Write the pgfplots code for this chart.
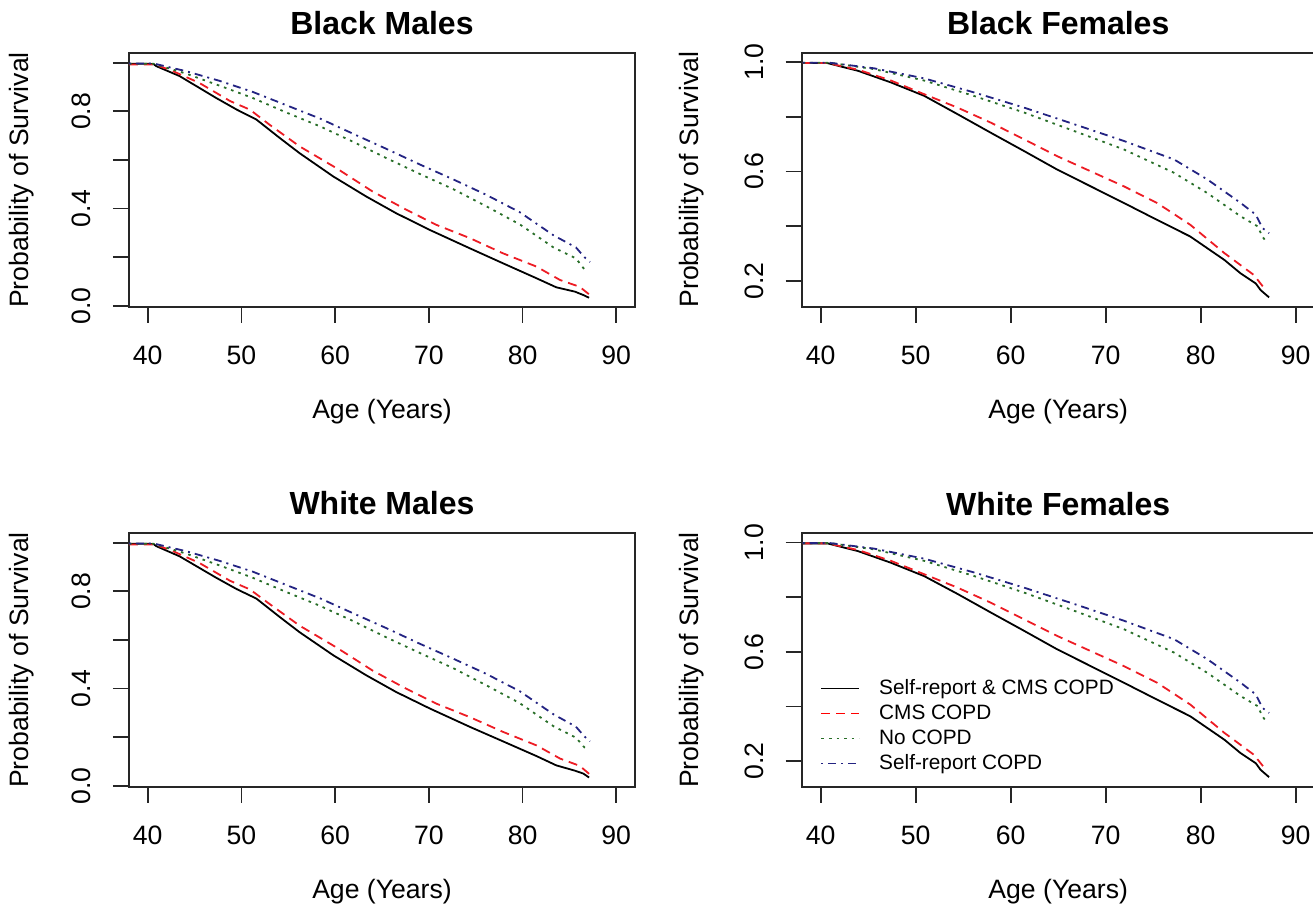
\documentclass[border=0pt]{standalone}
\usepackage{fontspec}
\setmainfont{Liberation Sans}
\usepackage{pgfplots}
\pgfplotsset{compat=1.18}

\definecolor{rred}{RGB}{237,28,36}
\definecolor{rgreen}{RGB}{40,110,40}
\definecolor{rblue}{RGB}{35,35,130}
\newcommand\lab{\fontsize{13.3}{16}\selectfont}

\pgfplotsset{
  survival/.style={
    scale only axis, width=253pt, height=127pt,
    xmin=38, xmax=92,
    xtick={40,50,60,70,80,90}, xticklabels={40,50,60,70,80,90},
    axis line style={line width=0.9pt, black!85},
    every tick/.style={line width=0.9pt, black!85},
    tick align=outside, major tick length=8pt,
    xtick pos=bottom, ytick pos=left,
    /pgf/number format/assume math mode=true,
    xticklabel style={anchor=north, inner sep=0pt, font=\lab},
    yticklabel style={rotate=90, anchor=south, inner sep=0pt, font=\lab},
    xticklabel shift=11.2pt, yticklabel shift=11pt,
    title style={at={(axis description cs:0.5,1)}, anchor=base, yshift=3pt,
      font=\bfseries\fontsize{16}{19}\selectfont},
    xlabel={Age (Years)}, ylabel={Probability of Survival},
    xlabel style={at={(axis description cs:0.5,0)}, anchor=base, yshift=-55.7pt, font=\lab},
    ylabel style={at={(axis description cs:-0.2130,0.5)}, anchor=center, font=\lab},
  },
  leftpanel/.style={survival, ymin=-0.005, ymax=1.04,
    ytick={0,0.2,0.4,0.6,0.8,1}, yticklabels={0.0,,0.4,,0.8,}},
  rightpanel/.style={survival, width=256.5pt, ymin=0.105, ymax=1.035,
    ytick={0.2,0.4,0.6,0.8,1}, yticklabels={0.2,,0.6,,1.0},
    ylabel style={at={(axis description cs:-0.2150,0.5)}}},
  both/.style={line width=0.9pt, color=black},
  cms/.style={line width=0.9pt, color=rred, dash pattern=on 4.5pt off 3pt},
  nocopd/.style={line width=0.9pt, color=rgreen, dash pattern=on 1.3pt off 2.5pt},
  self/.style={line width=0.9pt, color=rblue, dash pattern=on 1pt off 2.5pt on 4pt off 2.5pt},
}

\begin{document}
\begin{tikzpicture}
\path[use as bounding box, clip] (0,0) rectangle (656.5pt,457.5pt);

% Black Males
\begin{axis}[leftpanel, at={(64.5pt,304pt)}, anchor=south west, title={Black Males}]
\addplot[both] coordinates {(38.0,0.996)(40.6,0.995)(40.9,0.986)(43.4,0.945)(47.3,0.855)(49.5,0.807)(51.6,0.766)(54.1,0.690)(56.2,0.628)(59.8,0.532)(63.3,0.450)(66.5,0.381)(70.1,0.312)(74.4,0.236)(77.9,0.175)(81.5,0.113)(83.6,0.076)(85.6,0.058)(86.5,0.044)(87.1,0.033)};
\addplot[cms] coordinates {(38.0,0.993)(40.6,0.993)(42.3,0.972)(45.5,0.917)(48.8,0.842)(50.9,0.807)(53.0,0.745)(56.2,0.656)(60.1,0.567)(64.0,0.470)(67.6,0.395)(70.8,0.333)(74.4,0.278)(77.9,0.216)(81.5,0.161)(84.0,0.106)(86.1,0.078)(87.2,0.044)};
\addplot[nocopd] coordinates {(38.0,0.996)(40.6,0.996)(44.1,0.955)(47.7,0.905)(51.2,0.855)(54.8,0.795)(58.4,0.738)(61.9,0.675)(65.5,0.607)(69.0,0.543)(72.6,0.480)(76.1,0.410)(79.7,0.335)(83.3,0.240)(85.7,0.195)(86.6,0.150)};
\addplot[self] coordinates {(38.0,0.997)(40.6,0.997)(44.1,0.965)(47.7,0.925)(51.2,0.880)(54.8,0.825)(58.4,0.770)(61.9,0.708)(65.5,0.645)(69.0,0.582)(72.6,0.520)(76.1,0.457)(79.7,0.385)(83.3,0.290)(85.7,0.240)(86.6,0.200)(87.2,0.180)};
\end{axis}

% Black Females
\begin{axis}[rightpanel, at={(400.85pt,304.15pt)}, anchor=south west, title={Black Females}]
\addplot[both] coordinates {(38.1,0.997)(40.7,0.997)(43.9,0.969)(47.4,0.926)(50.9,0.877)(54.4,0.810)(57.9,0.742)(61.4,0.675)(64.9,0.607)(68.4,0.546)(71.9,0.485)(75.4,0.423)(78.9,0.362)(82.5,0.276)(84.2,0.227)(85.8,0.190)(86.3,0.166)(87.2,0.139)};
\addplot[cms] coordinates {(38.1,0.997)(40.7,0.997)(43.9,0.973)(47.4,0.933)(50.9,0.883)(54.4,0.834)(57.9,0.779)(61.4,0.718)(64.9,0.656)(68.4,0.601)(71.9,0.546)(75.4,0.485)(78.9,0.405)(82.5,0.301)(85.6,0.221)(86.7,0.172)};
\addplot[nocopd] coordinates {(38.1,0.998)(41.0,0.998)(45.6,0.975)(50.9,0.933)(56.1,0.877)(61.4,0.816)(66.7,0.748)(71.9,0.681)(77.2,0.595)(80.7,0.521)(84.2,0.436)(86.0,0.399)(86.5,0.362)(87.0,0.337)};
\addplot[self] coordinates {(38.1,0.998)(41.0,0.998)(45.6,0.978)(50.9,0.941)(56.1,0.890)(61.4,0.834)(66.7,0.773)(71.9,0.712)(77.2,0.644)(80.7,0.571)(84.2,0.485)(85.8,0.442)(86.5,0.393)(87.2,0.374)};
\end{axis}

% White Males
\begin{axis}[leftpanel, at={(64.5pt,64pt)}, anchor=south west, title={White Males}]
\addplot[both] coordinates {(38.0,0.996)(40.6,0.995)(40.9,0.986)(43.4,0.944)(47.3,0.856)(49.5,0.809)(51.6,0.770)(54.1,0.694)(56.2,0.632)(59.8,0.537)(63.3,0.455)(66.5,0.386)(70.1,0.318)(74.4,0.242)(77.9,0.183)(81.5,0.122)(83.6,0.084)(85.6,0.062)(86.5,0.050)(87.1,0.034)};
\addplot[cms] coordinates {(38.0,0.993)(40.6,0.993)(42.3,0.972)(45.5,0.917)(48.8,0.843)(50.9,0.808)(53.0,0.748)(56.2,0.659)(60.1,0.570)(64.0,0.474)(67.6,0.399)(70.8,0.338)(74.4,0.282)(77.9,0.222)(81.5,0.166)(84.0,0.112)(86.1,0.082)(87.2,0.046)};
\addplot[nocopd] coordinates {(38.0,0.996)(40.6,0.996)(44.1,0.955)(47.7,0.906)(51.2,0.856)(54.8,0.797)(58.4,0.740)(61.9,0.678)(65.5,0.610)(69.0,0.547)(72.6,0.484)(76.1,0.414)(79.7,0.340)(83.3,0.245)(85.7,0.198)(86.6,0.158)(87.1,0.148)};
\addplot[self] coordinates {(38.0,0.997)(40.6,0.997)(44.1,0.965)(47.7,0.925)(51.2,0.881)(54.8,0.826)(58.4,0.771)(61.9,0.710)(65.5,0.648)(69.0,0.585)(72.6,0.523)(76.1,0.461)(79.7,0.389)(83.3,0.294)(85.7,0.243)(86.6,0.203)(87.2,0.183)};
\end{axis}

% White Females
\begin{axis}[rightpanel, at={(400.85pt,64pt)}, anchor=south west, title={White Females},
  legend cell align=left,
  legend style={draw=none, fill=none, at={(axis description cs:0.0357,0.4306)}, anchor=north west,
    inner sep=0pt, row sep=2pt, column sep=9.5pt, font=\fontsize{10.4}{12}\selectfont,
    nodes={inner sep=0pt, text height=8pt, text depth=2.5pt}},
  legend image code/.code={\draw[#1] (0pt,0pt) -- (19pt,0pt);},
  legend entries={Self-report \& CMS COPD, CMS COPD, No COPD, Self-report COPD}]
\addlegendimage{line width=0.9pt, black}
\addlegendimage{line width=0.9pt, red, dash pattern=on 4.5pt off 3pt}
\addlegendimage{line width=0.9pt, rgreen, dash pattern=on 1.3pt off 2.5pt}
\addlegendimage{line width=0.9pt, rblue, dash pattern=on 1pt off 2.5pt on 4pt off 2.5pt}
\addplot[both] coordinates {(38.1,0.997)(40.7,0.997)(43.9,0.969)(47.4,0.926)(50.9,0.877)(54.4,0.812)(57.9,0.744)(61.4,0.677)(64.9,0.609)(68.4,0.548)(71.9,0.487)(75.4,0.425)(78.9,0.364)(82.5,0.278)(84.2,0.229)(85.8,0.192)(86.3,0.168)(87.2,0.141)};
\addplot[cms] coordinates {(38.1,0.997)(40.7,0.997)(43.9,0.973)(47.4,0.933)(50.9,0.884)(54.4,0.835)(57.9,0.780)(61.4,0.719)(64.9,0.658)(68.4,0.603)(71.9,0.548)(75.4,0.487)(78.9,0.407)(82.5,0.303)(85.6,0.223)(86.7,0.175)};
\addplot[nocopd] coordinates {(38.1,0.998)(41.0,0.998)(45.6,0.975)(50.9,0.933)(56.1,0.878)(61.4,0.817)(66.7,0.750)(71.9,0.683)(77.2,0.597)(80.7,0.523)(84.2,0.438)(86.0,0.401)(86.5,0.364)(87.0,0.339)};
\addplot[self] coordinates {(38.1,0.998)(41.0,0.998)(45.6,0.978)(50.9,0.941)(56.1,0.891)(61.4,0.835)(66.7,0.775)(71.9,0.714)(77.2,0.646)(80.7,0.573)(84.2,0.487)(85.8,0.444)(86.5,0.395)(87.2,0.376)};
\end{axis}
\end{tikzpicture}
\end{document}
